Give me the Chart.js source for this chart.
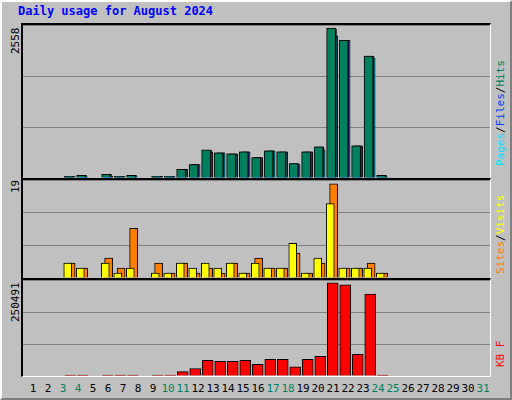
<!DOCTYPE html>
<html><head><meta charset="utf-8">
<script src="https://cdn.jsdelivr.net/npm/chart.js@4"></script>
<style>
body{margin:0;background:#fff;font-family:"DejaVu Sans Mono",monospace}
#frame{position:absolute;left:0;top:0;width:508px;height:396px;background:#c0c0c0;border:2px solid;border-color:#fff #808080 #808080 #fff}
.panel{position:absolute;left:21px;width:470px;background:#c0c0c0;border-left:2px solid #000;border-top:2px solid #000;border-right:1px solid #fff;border-bottom:1px solid #fff;box-sizing:border-box}
.panel canvas{position:absolute;left:0;top:0}
.rot{position:absolute;transform-origin:left top;transform:rotate(-90deg);white-space:nowrap;font-size:11px}
#title{position:absolute;left:18px;top:4px;color:#0000ff;font-weight:bold;font-size:12px}
.xl{position:absolute;top:382px;font-size:11px;width:20px;text-align:center}
</style></head><body>
<div id="frame"></div>
<div id="title">Daily usage for August 2024</div>
<div class="panel" style="top:23px;height:156px"><canvas id="c1"></canvas></div>
<div class="panel" style="top:178px;height:101px"><canvas id="c2"></canvas></div>
<div class="panel" style="top:278px;height:99px"><canvas id="c3"></canvas></div>
<div class="rot" style="left:9px;top:54px">2558</div>
<div class="rot" style="left:9px;top:193px">19</div>
<div class="rot" style="left:9px;top:322px">250491</div>
<div class="rot" style="left:494px;top:166px"><span style="color:#00e0ff">Pages</span>/<span style="color:#0040ff">Files</span>/<span style="color:#00805c">Hits</span></div>
<div class="rot" style="left:494px;top:274px"><span style="color:#ff8000">Sites</span>/<span style="color:#ffff00">Visits</span></div>
<div class="rot" style="left:494px;top:367px"><span style="color:#ff0000">KB F</span></div>
<div id="xlabels"></div>
<script>
// Data
const days = Array.from({length: 31}, (_, i) => i + 1);
const weekends = [3, 4, 10, 11, 17, 18, 24, 25, 31];
const hits  = [28,45,0,62,28,45,0,28,28,146,230,482,431,414,448,347,465,448,246,448,532,2558,2346,549,2078,45,0,0,0,0,0];
const files = [28,45,0,62,28,45,0,28,28,146,230,470,431,414,448,347,465,448,246,448,532,2540,2346,549,2078,45,0,0,0,0,0];
const pages = [28,20,0,30,28,20,0,28,28,146,230,448,431,414,448,347,465,448,230,448,482,2425,2346,549,2044,20,0,0,0,0,0];
const visits = [3,2,0,3,1,2,0,1,1,3,2,3,2,3,1,3,2,2,7,1,4,15,2,2,2,1,0,0,0,0,0];
const sites  = [3,2,0,4,2,10,0,3,1,3,1,2,1,3,1,4,2,2,5,1,3,19,2,2,3,1,0,0,0,0,0];
const kbytes = [400,400,0,400,400,400,0,400,400,11900,20100,42000,39300,39300,42000,31100,44800,44800,24700,44800,53000,250491,245000,58500,220000,400,0,0,0,0,0];
const maxHits = 2558, maxVisits = 19, maxKB = 250491;

// x labels
const xl = document.getElementById('xlabels');
days.forEach(d => {
  const el = document.createElement('div');
  el.className = 'xl';
  el.style.left = (33 + (d - 1) * 15 - 10) + 'px';
  el.style.color = weekends.includes(d) ? '#008060' : '#000';
  el.textContent = d;
  xl.appendChild(el);
});

function series(vals, off, color, order, w) {
  return {
    data: vals.map((v, i) => ({x: days[i] + off, y: v > 0 ? v : null})),
    backgroundColor: color, borderColor: '#000', borderWidth: 1,
    borderSkipped: 'bottom', barThickness: w, order: order, minBarLength: 1,
    grouped: false
  };
}

function makeChart(id, w, h, max, datasets) {
  const cv = document.getElementById(id);
  cv.width = w; cv.height = h;
  new Chart(cv, {
    type: 'bar',
    data: {datasets: datasets},
    options: {
      responsive: false, animation: false,
      layout: {padding: 0},
      plugins: {legend: {display: false}, tooltip: {enabled: false}},
      scales: {
        x: {type: 'linear', min: 1 - 10 / 15, max: 1 + 457 / 15, display: false},
        y: {min: 0, max: max, ticks: {display: false, stepSize: max / 3},
            grid: {color: '#808080', lineWidth: 1, drawTicks: false}, border: {display: false}}
      }
    }
  });
}

makeChart('c1', 467, 153, maxHits * 1.02, [
  series(hits, -0.13, '#00805c', 0, 9),
  series(files, -0.06, '#0040ff', 1, 9),
  series(pages, 0.07, '#00e0ff', 2, 8)
]);
makeChart('c2', 467, 98, maxVisits * 1.04, [
  series(visits, -0.2, '#ffff00', 0, 8),
  series(sites, 0.07, '#ff8000', 1, 8)
]);
makeChart('c3', 467, 96, maxKB * 1.03, [
  series(kbytes, 0, '#ff0000', 0, 11)
]);
</script>
</body></html>
